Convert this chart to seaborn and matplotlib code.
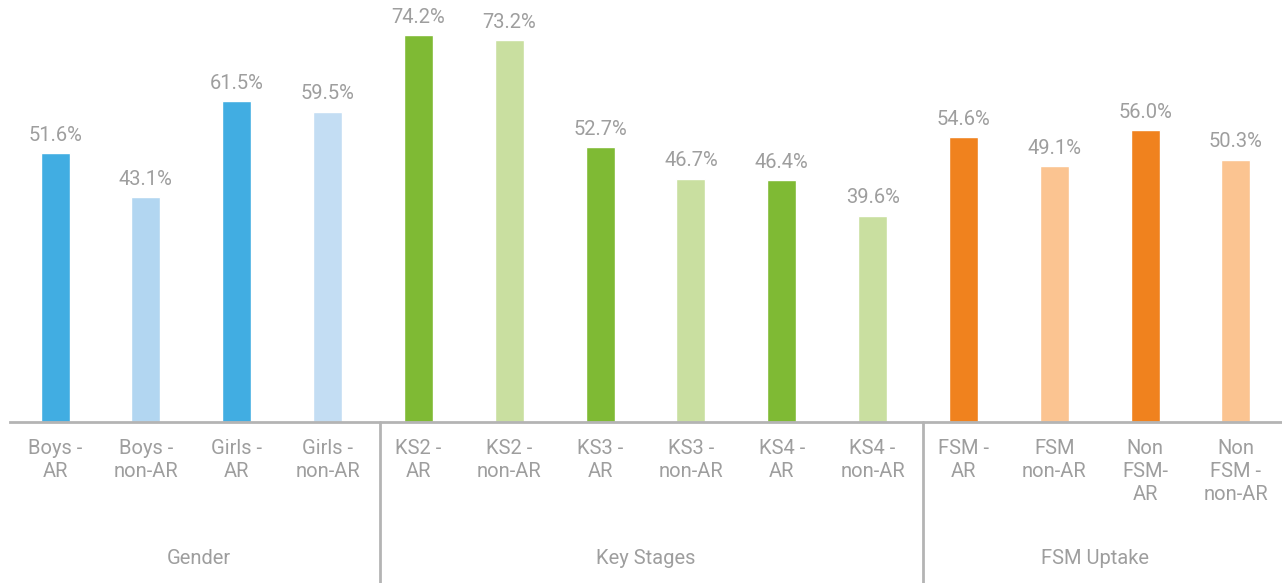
import matplotlib
matplotlib.use("Agg")
import matplotlib.pyplot as plt
import matplotlib.transforms as mtransforms
import seaborn as sns
import pandas as pd

categories = ["Boys -\nAR", "Boys -\nnon-AR", "Girls -\nAR", "Girls -\nnon-AR",
              "KS2 -\nAR", "KS2 -\nnon-AR", "KS3 -\nAR", "KS3 -\nnon-AR",
              "KS4 -\nAR", "KS4 -\nnon-AR",
              "FSM -\nAR", "FSM\nnon-AR", "Non\nFSM-\nAR", "Non\nFSM -\nnon-AR"]
values = [51.6, 43.1, 61.5, 59.5, 74.2, 73.2, 52.7, 46.7, 46.4, 39.6,
          54.6, 49.1, 56.0, 50.3]
colors = ["#41ADE2", "#B2D6F1", "#41ADE2", "#C3DDF3",
          "#7FBA34", "#C9DFA0", "#7FBA34", "#C9DFA0", "#7FBA34", "#C9DFA0",
          "#F0821E", "#FBC491", "#F0821E", "#FBC491"]
groups = ["Gender", "Key Stages", "FSM Uptake"]
group_spans = [(0, 3), (4, 9), (10, 13)]
group_label_shift = [0.08, 0.0, -0.05]

sns.set_theme(style="white")
plt.rcParams['font.family'] = ['Roboto', 'DejaVu Sans']

text_color = "#9E9E9E"
line_color = "#B4B4B4"

fig = plt.figure(figsize=(12.82, 5.83), dpi=100)
ax = fig.add_axes([0.0075, 0.2762, 0.992, 0.7153])

df = pd.DataFrame({"cat": categories, "val": values})
sns.barplot(data=df, x="cat", y="val", hue="cat", palette=colors,
            width=0.32, legend=False, ax=ax, saturation=1)

ax.set_xlim(-0.5, 13.5)
ax.set_ylim(0, 80)
ax.set_xlabel("")
ax.set_ylabel("")
ax.set_yticks([])
for s in ["top", "right", "left"]:
    ax.spines[s].set_visible(False)
ax.spines["bottom"].set_color(line_color)
ax.spines["bottom"].set_linewidth(2)
ax.tick_params(axis="x", length=0, pad=12, labelsize=14.5, labelcolor=text_color)
for lbl in ax.get_xticklabels():
    lbl.set_linespacing(1.28)

for container in ax.containers:
    ax.bar_label(container, fmt="%.1f%%", padding=6, fontsize=14.5, color=text_color)

trans = mtransforms.blended_transform_factory(ax.transData, ax.transAxes)
for xsep in [3.58, 9.55]:
    ax.plot([xsep, xsep], [0, -0.4], transform=trans, color=line_color,
            linewidth=2, clip_on=False)

for name, (a, b), sh in zip(groups, group_spans, group_label_shift):
    ax.text((a + b) / 2 + sh, -0.328, name, transform=trans, ha="center",
            va="center", fontsize=14.5, color=text_color)

fig.savefig("out.png", dpi=100)
